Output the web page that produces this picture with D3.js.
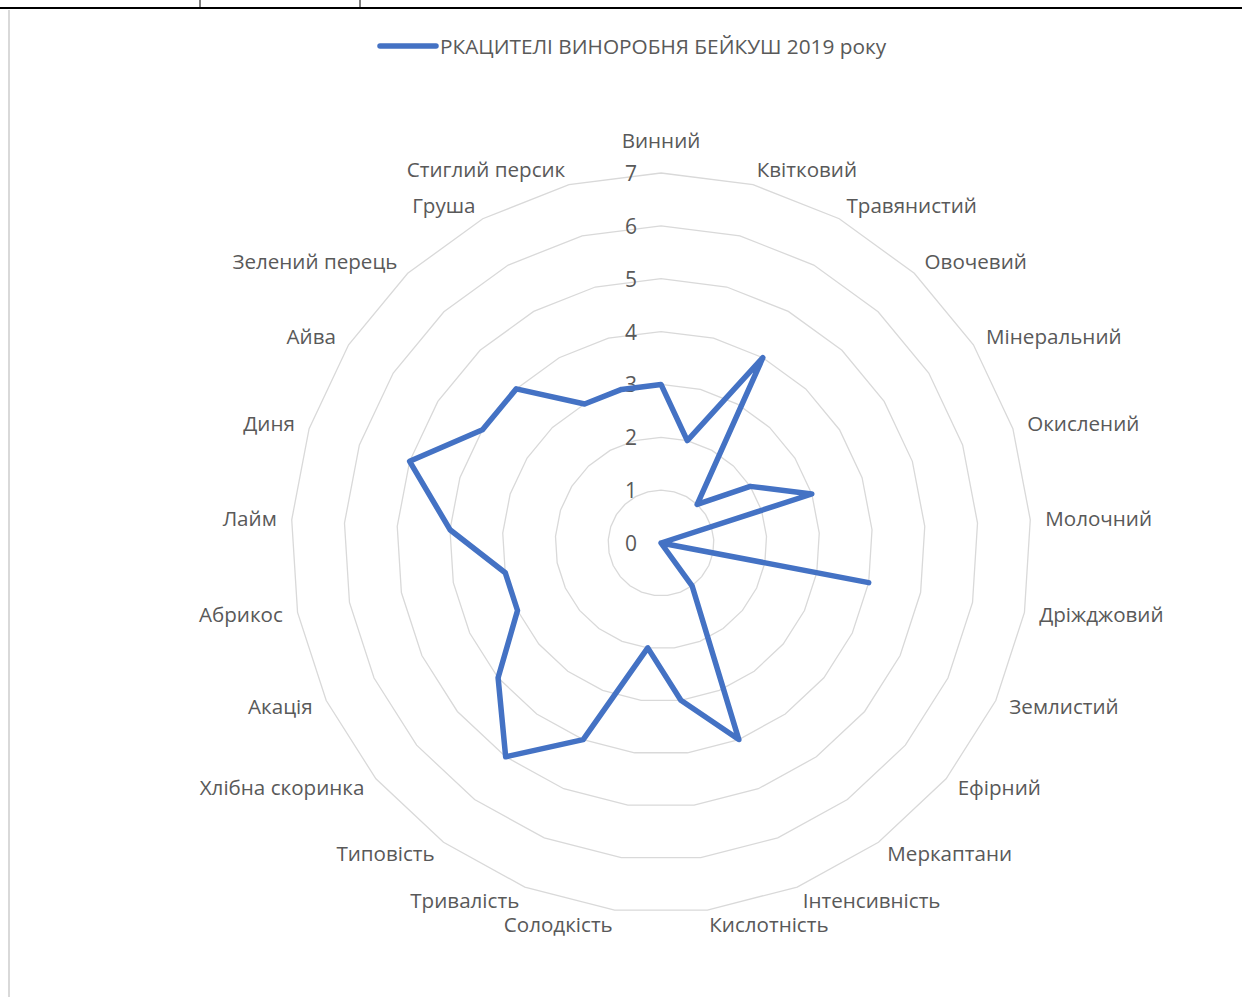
<!DOCTYPE html>
<html>
<head>
<meta charset="utf-8">
<script src="https://cdn.jsdelivr.net/npm/d3@7"></script>
<style>
  body { margin: 0; background: #fff; }
  text { font-family: "Open Sans", "Noto Sans", sans-serif; fill: #595959; }
</style>
</head>
<body>
<div id="main"></div>
<script>
// aroma profile of the wine, one value per descriptor
var categories = ["Винний", "Квітковий", "Травянистий", "Овочевий", "Мінеральний", "Окислений",
  "Молочний", "Дріжджовий", "Землистий", "Ефірний", "Меркаптани", "Інтенсивність",
  "Кислотність", "Солодкість", "Тривалість", "Типовість", "Хлібна скоринка", "Акація",
  "Абрикос", "Лайм", "Диня", "Айва", "Зелений перець", "Груша", "Стиглий персик"];
var values = [3, 2, 4, 1, 2, 3, 0, 4, 0, 0, 1, 4, 3, 2, 4, 5, 4, 3, 3, 4, 5, 4, 4, 3, 3];
var ticks = [0, 1, 2, 3, 4, 5, 6, 7];
var seriesName = "РКАЦИТЕЛІ ВИНОРОБНЯ БЕЙКУШ 2019 року";

var width = 1242, height = 997;
var cx = 661, cy = 543;
var radius = 370;
var blue = "#4472c4";

var svg = d3.select("#main")
  .append("svg")
  .attr("width", width)
  .attr("height", height);

// bits of the sheet around the chart
svg.append("line").attr("x1", 0).attr("x2", width).attr("y1", 8).attr("y2", 8)
  .attr("stroke", "#000").attr("stroke-width", 2);
[200, 360].forEach(function(x){
  svg.append("line").attr("x1", x).attr("x2", x).attr("y1", 0).attr("y2", 8)
    .attr("stroke", "#000").attr("stroke-width", 1);
});
svg.append("line").attr("x1", 9).attr("x2", 9).attr("y1", 10).attr("y2", height)
  .attr("stroke", "#d9d9d9").attr("stroke-width", 2);

var r = d3.scaleLinear().domain([0, 7]).range([0, radius]);
var angle = d3.scaleLinear().domain([0, categories.length]).range([0, 2 * Math.PI]);

var g = svg.append("g").attr("transform", "translate(" + cx + "," + cy + ")");

// rings
var ring = d3.lineRadial()
  .angle(function(d, i){ return angle(i); })
  .radius(function(d){ return r(d); })
  .curve(d3.curveLinearClosed);

g.append("g")
  .selectAll("path")
  .data(ticks.slice(1))
  .join("path")
    .attr("d", function(t){ return ring(categories.map(function(){ return t; })); })
    .attr("fill", "none")
    .attr("stroke", "#d9d9d9")
    .attr("stroke-width", 1.3);

// tick labels
g.append("g")
  .selectAll("text")
  .data(ticks)
  .join("text")
    .attr("x", -24)
    .attr("y", function(t){ return -r(t); })
    .attr("text-anchor", "end")
    .attr("dominant-baseline", "central")
    .attr("font-size", 21)
    .text(function(t){ return t; });

// category labels
var lr = radius + 15;
g.append("g")
  .selectAll("text")
  .data(categories)
  .join("text")
    .attr("x", function(d, i){ return lr * Math.sin(angle(i)); })
    .attr("y", function(d, i){ return i === 0 ? -lr - 10 : -lr * Math.cos(angle(i)) - 1; })
    .attr("text-anchor", function(d, i){
      if (i === 0) return "middle";
      return Math.sin(angle(i)) > 0 ? "start" : "end";
    })
    .attr("dominant-baseline", function(d, i){ return i === 0 ? "auto" : "central"; })
    .attr("font-size", 20.6)
    .text(function(d){ return d; });

// series
g.append("path")
  .datum(values)
  .attr("d", ring)
  .attr("fill", "none")
  .attr("stroke", blue)
  .attr("stroke-width", 5.5)
  .attr("stroke-linejoin", "round");

// legend
var legend = svg.append("g").attr("transform", "translate(380,46)");
legend.append("line").attr("x1", 0).attr("x2", 56).attr("y1", 0).attr("y2", 0)
  .attr("stroke", blue).attr("stroke-width", 5.5).attr("stroke-linecap", "round");
legend.append("text")
  .attr("x", 60)
  .attr("dominant-baseline", "central")
  .attr("font-size", 20.8)
  .text(seriesName);
</script>
</body>
</html>
